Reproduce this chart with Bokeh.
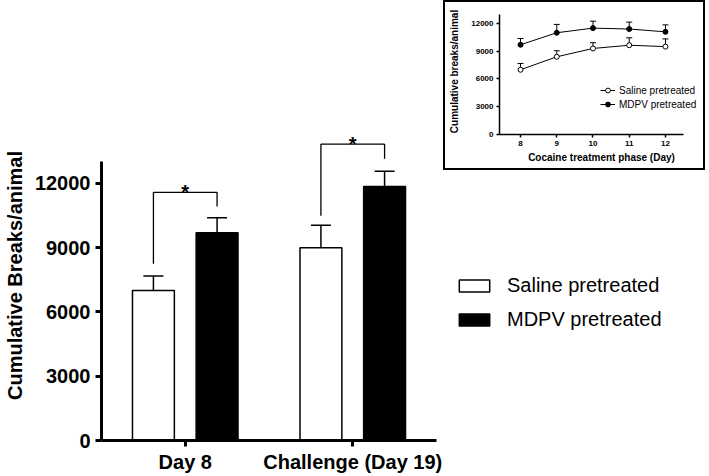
from bokeh.plotting import figure
from bokeh.models import ColumnDataSource, FactorRange, Range1d, Legend, LegendItem
from bokeh.transform import dodge
from bokeh.layouts import row, column
from bokeh.embed import file_html
from bokeh.resources import INLINE
from bokeh.core.properties import value

# ---------------- data ----------------
phases = ["Day 8", "Challenge (Day 19)"]
saline_mean = [7000, 9000]
saline_sem = [680, 1050]
mdpv_mean = [9700, 11850]
mdpv_sem = [700, 720]
bracket_left_base = [8250, 10490]
bracket_right_base = [10925, 13150]
bracket_top = [11580, 13835]
sig_marks = ["*", "*"]
main_y_ticks = [0, 3000, 6000, 9000, 12000]

days = [8, 9, 10, 11, 12]
inset_saline_mean = [7000, 8400, 9300, 9650, 9500]
inset_saline_sem = [680, 650, 620, 800, 830]
inset_mdpv_mean = [9700, 11000, 11500, 11400, 11100]
inset_mdpv_sem = [680, 900, 750, 750, 750]
inset_y_ticks = [0, 3000, 6000, 9000, 12000]

FONT = "Liberation Sans"
BLACK = "black"

# ---------------- main bar chart ----------------
src = ColumnDataSource(dict(
    phase=phases,
    s=saline_mean,
    s_up=[m + e for m, e in zip(saline_mean, saline_sem)],
    m=mdpv_mean,
    m_up=[m + e for m, e in zip(mdpv_mean, mdpv_sem)],
    lb=bracket_left_base,
    rb=bracket_right_base,
    top=bracket_top,
    star=sig_marks,
))

p = figure(x_range=FactorRange(factors=phases, range_padding=0),
           y_range=Range1d(0, 15400),
           width=443, height=476, output_backend="svg", toolbar_location=None,
           min_border_left=100, min_border_right=7, min_border_top=110, min_border_bottom=36)
p.frame_align = False

OFF = 0.19
xs = dodge("phase", -OFF, range=p.x_range)
xm = dodge("phase", OFF, range=p.x_range)

# error bars (upper only)
p.segment(x0=xs, y0="s", x1=xs, y1="s_up", source=src, line_color=BLACK, line_width=1.5)
p.scatter(x=xs, y="s_up", source=src, marker="dash", size=20, line_color=BLACK, line_width=1.5)
p.segment(x0=xm, y0="m", x1=xm, y1="m_up", source=src, line_color=BLACK, line_width=1.5)
p.scatter(x=xm, y="m_up", source=src, marker="dash", size=20, line_color=BLACK, line_width=1.5)

# bars
p.vbar(x=xs, top="s", width=0.25, source=src, fill_color="white", line_color=BLACK, line_width=1.5)
p.vbar(x=xm, top="m", width=0.25, source=src, fill_color=BLACK, line_color=BLACK, line_width=1.5)

# significance brackets
p.segment(x0=xs, y0="lb", x1=xs, y1="top", source=src, line_color=BLACK, line_width=1.3)
p.segment(x0=xs, y0="top", x1=xm, y1="top", source=src, line_color=BLACK, line_width=1.3)
p.segment(x0=xm, y0="rb", x1=xm, y1="top", source=src, line_color=BLACK, line_width=1.3)
p.text(x="phase", y="top", text="star", source=src, text_align="center",
       text_baseline="alphabetic", text_font=value(FONT), text_font_style="bold",
       text_font_size="20px", text_color=BLACK)

p.xgrid.visible = False
p.ygrid.visible = False
p.outline_line_color = None

for ax in (p.xaxis[0], p.yaxis[0]):
    ax.axis_line_width = 3
    ax.axis_line_color = BLACK
    ax.major_tick_line_width = 3
    ax.major_tick_line_color = BLACK
    ax.major_tick_in = 0
    ax.major_tick_out = 6
    ax.major_label_text_font = FONT
    ax.major_label_text_font_style = "bold"
    ax.major_label_text_font_size = "20px"
    ax.major_label_text_color = BLACK

p.xaxis.major_label_standoff = 4
p.yaxis.ticker = main_y_ticks
p.yaxis.bounds = (0, 13000)
p.yaxis.minor_tick_line_color = None
p.yaxis.major_label_standoff = 5
p.yaxis.axis_label = "Cumulative Breaks/animal"
p.yaxis.axis_label_text_font = FONT
p.yaxis.axis_label_text_font_style = "bold"
p.yaxis.axis_label_text_font_size = "20px"
p.yaxis.axis_label_text_color = BLACK
p.yaxis.axis_label_standoff = 6

# ---------------- inset line chart ----------------
isrc = ColumnDataSource(dict(
    day=days,
    s=inset_saline_mean,
    s_up=[m + e for m, e in zip(inset_saline_mean, inset_saline_sem)],
    m=inset_mdpv_mean,
    m_up=[m + e for m, e in zip(inset_mdpv_mean, inset_mdpv_sem)],
))

q = figure(x_range=Range1d(7.42, 13.05), y_range=Range1d(0, 13620),
           width=262, height=170, output_backend="svg", toolbar_location=None,
           min_border_left=54, min_border_right=4, min_border_top=6, min_border_bottom=38)
q.frame_align = False
q.styles = {"border": "2px solid black"}

q.segment(x0="day", y0="s", x1="day", y1="s_up", source=isrc, line_color=BLACK, line_width=1)
q.scatter(x="day", y="s_up", source=isrc, marker="dash", size=6, line_color=BLACK, line_width=1)
q.segment(x0="day", y0="m", x1="day", y1="m_up", source=isrc, line_color=BLACK, line_width=1)
q.scatter(x="day", y="m_up", source=isrc, marker="dash", size=6, line_color=BLACK, line_width=1)
ls = q.line(x="day", y="s", source=isrc, line_color=BLACK, line_width=1)
lm = q.line(x="day", y="m", source=isrc, line_color=BLACK, line_width=1)
cs = q.scatter(x="day", y="s", source=isrc, marker="circle", size=5,
               fill_color="white", line_color=BLACK, line_width=1)
cm = q.scatter(x="day", y="m", source=isrc, marker="circle", size=5,
               fill_color=BLACK, line_color=BLACK, line_width=1)

q.xgrid.visible = False
q.ygrid.visible = False
q.outline_line_color = None
for ax in (q.xaxis[0], q.yaxis[0]):
    ax.axis_line_width = 1.5
    ax.axis_line_color = BLACK
    ax.major_tick_line_width = 1.5
    ax.major_tick_line_color = BLACK
    ax.major_tick_in = 0
    ax.major_tick_out = 3
    ax.minor_tick_line_color = None
    ax.major_label_text_font = FONT
    ax.major_label_text_font_style = "bold"
    ax.major_label_text_font_size = "8px"
    ax.major_label_text_color = BLACK
    ax.major_label_standoff = 3
    ax.axis_label_text_font = FONT
    ax.axis_label_text_font_style = "bold"
    ax.axis_label_text_font_size = "10px"
    ax.axis_label_text_color = BLACK
q.xaxis.ticker = days
q.xaxis.bounds = (7.42, 12.5)
q.yaxis.ticker = inset_y_ticks
q.yaxis.bounds = (0, 13000)
q.xaxis.axis_label = "Cocaine treatment phase (Day)"
q.xaxis.axis_label_standoff = 3
q.yaxis.axis_label = "Cumulative breaks/animal"
q.yaxis.axis_label_standoff = 8

ileg = Legend(items=[LegendItem(label="Saline pretreated", renderers=[ls, cs]),
                     LegendItem(label="MDPV pretreated", renderers=[lm, cm])],
              location=(101, 24), glyph_width=15, glyph_height=12, label_height=12,
              spacing=2, padding=0, margin=0, label_standoff=4,
              label_text_font=FONT, label_text_font_size="10px", label_text_color=BLACK,
              border_line_color=None, background_fill_alpha=0)
q.add_layout(ileg)

# ---------------- legend panel for the bar chart ----------------
lf = figure(width=266, height=302, x_range=Range1d(0, 1), y_range=Range1d(0, 1),
            x_axis_type=None, y_axis_type=None,
            output_backend="svg", toolbar_location=None, min_border=0)
lf.frame_align = False
lf.grid.visible = False
lf.outline_line_color = None
proxy = ColumnDataSource(dict(x=[0], top=[0]))
rs = lf.vbar(x="x", top="top", width=0.1, source=proxy, fill_color="white",
             line_color=BLACK, line_width=1.5, visible=False)
rm = lf.vbar(x="x", top="top", width=0.1, source=proxy, fill_color=BLACK,
             line_color=BLACK, line_width=1.5, visible=False)
leg = Legend(items=[LegendItem(label="Saline pretreated", renderers=[rs]),
                    LegendItem(label="MDPV pretreated", renderers=[rm])],
             location=(12, 141), glyph_width=38, glyph_height=15, label_height=24,
             spacing=10, padding=0, margin=0, label_standoff=14,
             label_text_font=FONT, label_text_font_size="20px", label_text_color=BLACK,
             border_line_color=None, background_fill_alpha=0)
lf.add_layout(leg)

layout = row(p, column(q, lf))
open("out.html", "w").write(file_html(layout, INLINE))
